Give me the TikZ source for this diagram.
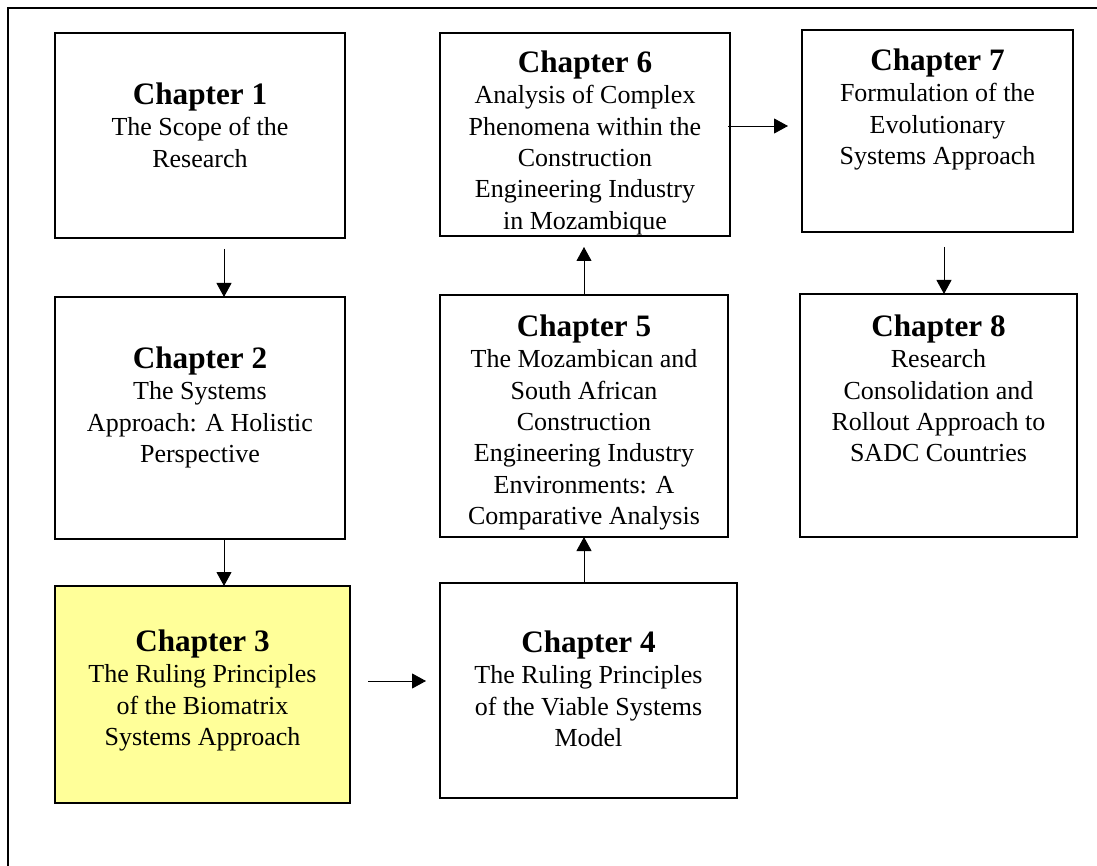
\documentclass[tikz,border=0pt]{standalone}
\usepackage{fontspec}
\setmainfont{Liberation Serif}
\usetikzlibrary{arrows.meta}
\definecolor{hilite}{HTML}{FFFF99}
\newcommand{\chhead}[1]{{\fontsize{31.2}{33}\selectfont\bfseries #1}\\}

\tikzset{
  chbox/.style={draw=black, line width=1.6pt, fill=white, inner sep=0pt, outer sep=0pt},
  chtext/.style={align=center, inner sep=0pt, anchor=north, font=\fontsize{26}{31.4}\selectfont},
  link/.style={line width=0.9pt, -{Triangle[length=14pt,width=15pt]}},
}

\begin{document}
\begin{tikzpicture}[x=1pt,y=-1pt]
  \useasboundingbox (0,0) rectangle (1097,866);
  \clip (0,0) rectangle (1097,866);

  % outer frame (runs off the page on the right and bottom)
  \draw[line width=2.2pt] (8.2,900) -- (8.2,8.3) -- (1120,8.3);

  % chapter boxes
  \node[chbox, minimum width=290pt, minimum height=205pt] (c1) at (200,135.5) {};
  \node[chbox, minimum width=290pt, minimum height=242pt] (c2) at (200,418) {};
  \node[chbox, fill=hilite, minimum width=295pt, minimum height=217pt] (c3) at (202.5,694.5) {};
  \node[chbox, minimum width=297pt, minimum height=215pt] (c4) at (588.5,690.5) {};
  \node[chbox, minimum width=288pt, minimum height=242pt] (c5) at (584,416) {};
  \node[chbox, minimum width=290pt, minimum height=203pt] (c6) at (585,134.5) {};
  \node[chbox, minimum width=271pt, minimum height=202pt] (c7) at (937.5,131) {};
  \node[chbox, minimum width=277pt, minimum height=243pt] (c8) at (938.5,415.5) {};

  % box texts
  \node[chtext] (t1) at (200,82.5) {\chhead{Chapter 1}The Scope of the\\Research};
  \node[chtext] (t2) at (200,346.5) {\chhead{Chapter 2}The Systems\\Approach: A Holistic\\Perspective};
  \node[chtext] (t3) at (202.5,629.5) {\chhead{Chapter 3}The Ruling Principles\\of the Biomatrix\\Systems Approach};
  \node[chtext] (t4) at (588.5,630.5) {\chhead{Chapter 4}The Ruling Principles\\of the Viable Systems\\Model};
  \node[chtext] (t5) at (584,314.5) {\chhead{Chapter 5}The Mozambican and\\South African\\Construction\\Engineering Industry\\Environments: A\\Comparative Analysis};
  \begin{scope}
    \clip (c6.north west) rectangle (c6.south east);
    \node[chtext] (t6) at (585,50.5) {\chhead{Chapter 6}Analysis of Complex\\Phenomena within the\\Construction\\Engineering Industry\\in Mozambique};
  \end{scope}
  \draw[line width=1.6pt] (c6.north west) rectangle (c6.south east);
  \node[chtext] (t7) at (937.5,48.5) {\chhead{Chapter 7}Formulation of the\\Evolutionary\\Systems Approach};
  \node[chtext] (t8) at (938.5,314.5) {\chhead{Chapter 8}Research\\Consolidation and\\Rollout Approach to\\SADC Countries};

  % connectors
  \draw[link, shorten <=11pt] ([xshift=24pt]c1.south) -- ([xshift=24pt]c2.north);
  \draw[link] ([xshift=24pt]c2.south) -- ([xshift=21.5pt]c3.north);
  \draw[link, shorten <=18pt, shorten >=14pt] ([yshift=13.5pt]c3.east) -- ([yshift=9.5pt]c4.west);
  \draw[link] ([xshift=-4.5pt]c4.north) -- (c5.south);
  \draw[link, shorten >=11pt] (c5.north) -- ([xshift=-1pt]c6.south);
  \draw[link, shorten <=-2pt, shorten >=14pt] ([yshift=8.5pt]c6.east) -- ([yshift=5pt]c7.west);
  \draw[link, shorten <=15pt] ([xshift=6.5pt]c7.south) -- ([xshift=5.5pt]c8.north);
\end{tikzpicture}
\end{document}
